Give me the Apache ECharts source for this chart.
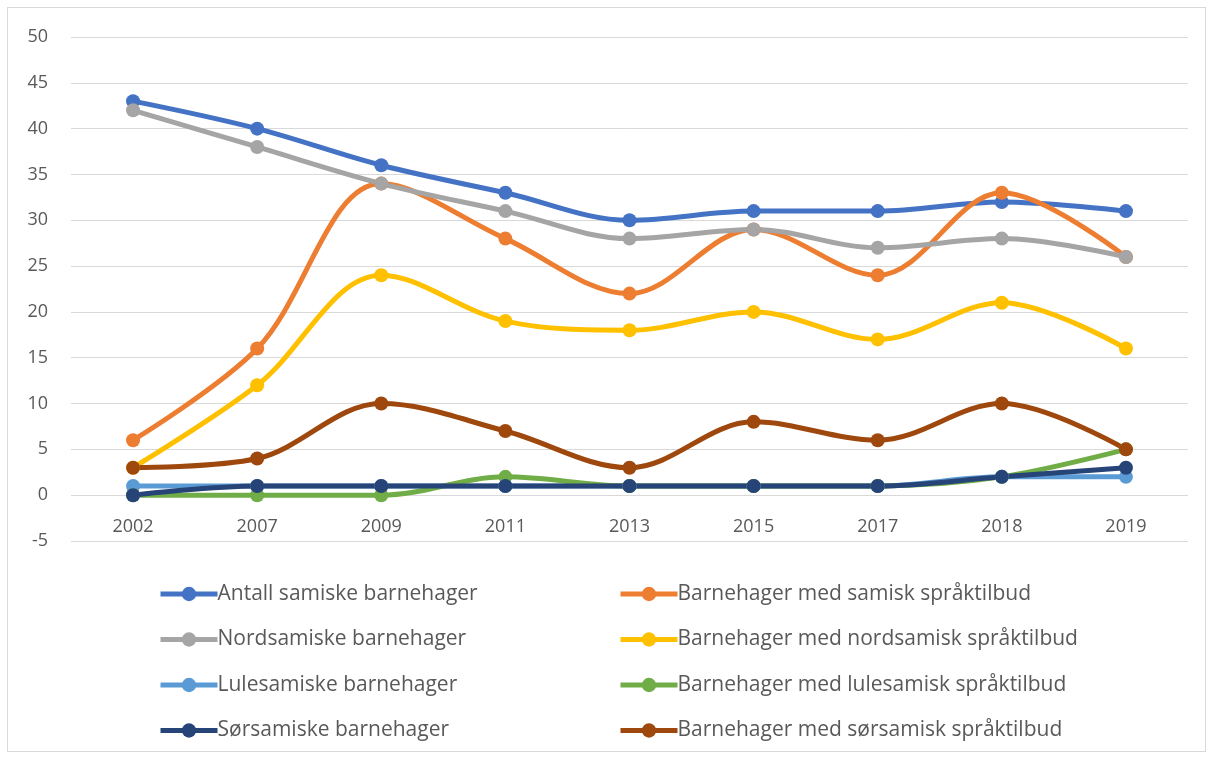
<!DOCTYPE html>
<html><head><meta charset="utf-8">
<script src="https://cdn.jsdelivr.net/npm/echarts@6/dist/echarts.min.js"></script>
<style>html,body{margin:0;padding:0;background:#fff}#c{width:1212px;height:758px}
#frame{position:absolute;left:7px;top:7px;width:1199px;height:745px;border:1px solid #d9d9d9;box-sizing:border-box;pointer-events:none}</style>
</head><body><div id="c"></div><div id="frame"></div>
<script>
const categories = ['2002','2007','2009','2011','2013','2015','2017','2018','2019'];
const antallSamiske = [43,40,36,33,30,31,31,32,31];
const medSamisk = [6,16,34,28,22,29,24,33,26];
const nordsamiske = [42,38,34,31,28,29,27,28,26];
const medNordsamisk = [3,12,24,19,18,20,17,21,16];
const lulesamiske = [1,1,1,1,1,1,1,2,2];
const medLulesamisk = [0,0,0,2,1,1,1,2,5];
const sorsamiske = [0,1,1,1,1,1,1,2,3];
const medSorsamisk = [3,4,10,7,3,8,6,10,5];
const yTicks = {min:-5, max:50, interval:5};

const defs = [
  ['Antall samiske barnehager', antallSamiske, '#4472C4'],
  ['Barnehager med samisk språktilbud', medSamisk, '#ED7D31'],
  ['Nordsamiske barnehager', nordsamiske, '#A5A5A5'],
  ['Barnehager med nordsamisk språktilbud', medNordsamisk, '#FFC000'],
  ['Lulesamiske barnehager', lulesamiske, '#5B9BD5'],
  ['Barnehager med lulesamisk språktilbud', medLulesamisk, '#70AD47'],
  ['Sørsamiske barnehager', sorsamiske, '#264478'],
  ['Barnehager med sørsamisk språktilbud', medSorsamisk, '#9E480E']
];
const font = 'Open Sans, Noto Sans, sans-serif';
const legendBase = {orient:'vertical', top:583, padding:0, itemWidth:57, itemHeight:18, itemGap:23.5,
  lineStyle:{width:5},
  textStyle:{fontSize:21, lineHeight:22, color:'#595959', fontFamily:font, padding:[0,0,0,-5]}};
const chart = echarts.init(document.getElementById('c'));
chart.setOption({
  animation:false,
  grid:{left:71, right:24, top:37, bottom:217},
  legend:[
    Object.assign({left:158, data:defs.filter((d,i)=>i%2===0).map(d=>d[0])}, legendBase),
    Object.assign({left:618, data:defs.filter((d,i)=>i%2===1).map(d=>d[0])}, legendBase)
  ],
  xAxis:{type:'category', data:categories, boundaryGap:true, offset:-45.8,
    axisLine:{show:false},
    axisTick:{show:false},
    axisLabel:{fontSize:18, color:'#595959', fontFamily:font, margin:23}},
  yAxis:{type:'value', min:yTicks.min, max:yTicks.max, interval:yTicks.interval,
    axisLine:{show:false}, axisTick:{show:false},
    splitLine:{lineStyle:{color:'#d9d9d9', width:1}},
    axisLabel:{fontSize:18, color:'#595959', fontFamily:font, margin:23}},
  series: defs.map(d=>({name:d[0], type:'line', data:d[1], smooth:0.35,
    symbol:'circle', symbolSize:14, lineStyle:{width:5, color:d[2]},
    itemStyle:{color:d[2]}, color:d[2]}))
});
</script></body></html>
